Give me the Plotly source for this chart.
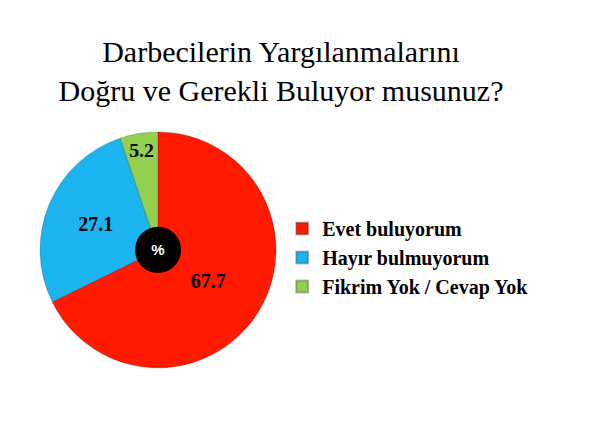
import plotly.graph_objects as go

# survey answers (%)
labels = ['Evet buluyorum', 'Hayır bulmuyorum', 'Fikrim Yok / Cevap Yok']
values = [67.7, 27.1, 5.2]
colors = ['#FF1A00', '#1CB4F0', '#92D050']

serif = 'Palatino Linotype, Book Antiqua, Liberation Serif, serif'

fig = go.Figure()

fig.add_trace(go.Pie(labels=labels, values=values, sort=False,
                     direction='clockwise', rotation=0,
                     marker=dict(colors=colors, line=dict(color='rgba(0,0,0,0.25)', width=0.8)),
                     texttemplate='<b>%{value}</b>', textposition='inside',
                     insidetextorientation='horizontal',
                     textfont=dict(family=serif, size=20, color='black'),
                     hoverinfo='label+value',
                     domain=dict(x=[0.0534, 0.4467], y=[0.163, 0.712])))

# black disc in the middle with the % sign
fig.add_trace(go.Pie(labels=['%'], values=[1], showlegend=False,
                     marker=dict(colors=['black']),
                     texttemplate='<b>%</b>', textposition='inside',
                     textfont=dict(family='Arial, Liberation Sans', size=15, color='white'),
                     hoverinfo='skip',
                     domain=dict(x=[0.2117, 0.2884], y=[0.384, 0.491])))

fig.update_layout(
    width=600, height=430,
    margin=dict(l=0, r=0, t=0, b=0),
    paper_bgcolor='white', plot_bgcolor='white',
    title=dict(text='Darbecilerin Yargılanmalarını<br>Doğru ve Gerekli Buluyor musunuz?',
               x=0.455, xanchor='center', y=0.875, yanchor='top',
               font=dict(family=serif, size=30, color='black')),
    legend=dict(x=0.457, xanchor='left', y=0.42, yanchor='middle',
                font=dict(family=serif, size=20, color='black', weight='bold'),
                itemsizing='constant', itemwidth=30),
)

fig.write_html("out.html")
